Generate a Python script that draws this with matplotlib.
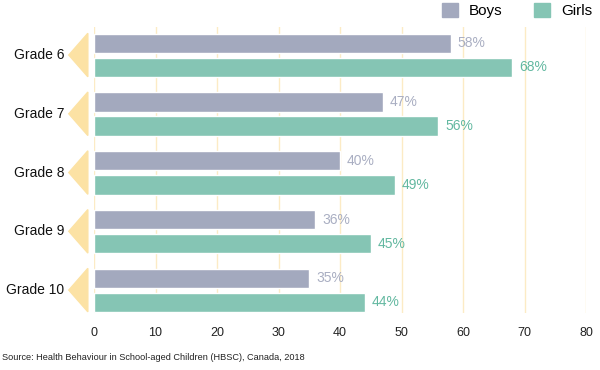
import matplotlib.pyplot as plt
from matplotlib.patches import Polygon, Patch

plt.rcParams['font.family'] = ['Liberation Sans', 'DejaVu Sans']

# data
grades = ['Grade 6', 'Grade 7', 'Grade 8', 'Grade 9', 'Grade 10']
boys = [58, 47, 40, 36, 35]
girls = [68, 56, 49, 45, 44]

boys_color = '#A3A9BE'
girls_color = '#85C5B4'
boys_text = '#A9AEC2'
girls_text = '#62B8A0'
grid_color = '#FCEBC5'
tri_color = '#FCE2A4'

fig = plt.figure(figsize=(6, 3.7), dpi=100)
ax = fig.add_axes([94/600, 1-313/370, (586-94)/600, (313-27)/370])

ypos = list(range(len(grades)))
yb = [y - 0.2 for y in ypos]
yg = [y + 0.21 for y in ypos]
ax.barh(yb, boys, height=0.33, color=boys_color, edgecolor='white', linewidth=1, zorder=3)
ax.barh(yg, girls, height=0.33, color=girls_color, edgecolor='white', linewidth=1, zorder=3)

for y, v in zip(yb, boys):
    ax.text(v + 1.1, y, f'{v}%', va='center', ha='left', fontsize=10, color=boys_text)
for y, v in zip(yg, girls):
    ax.text(v + 1.1, y, f'{v}%', va='center', ha='left', fontsize=10, color=girls_text)

# yellow arrow markers and grade labels
for y, g in zip(ypos, grades):
    tri = Polygon([[-4.1, y], [-1.0, y - 0.37], [-1.0, y + 0.37]], closed=True,
                  color=tri_color, clip_on=False, zorder=2)
    ax.add_patch(tri)
    ax.text(-4.8, y, g, ha='right', va='center', fontsize=10, color='#111111')

ax.set_xlim(0, 80)
ax.set_ylim(4.39, -0.477)
ax.set_xticks(range(0, 81, 10))
ax.set_yticks([])
ax.tick_params(axis='x', length=0, labelsize=9, pad=10, colors='#222222')
ax.grid(axis='x', color=grid_color, linewidth=1, zorder=0)
for s in ax.spines.values():
    s.set_visible(False)

handles = [Patch(color=boys_color, label='Boys'), Patch(color=girls_color, label='Girls')]
fig.legend(handles=handles, loc='upper right', bbox_to_anchor=(1.01, 1.03), ncol=2,
           frameon=False, fontsize=11, handlelength=1.05, handleheight=1.05,
           columnspacing=2.1, handletextpad=0.7)

fig.text(2/600, 1-358/370, 'Source: Health Behaviour in School-aged Children (HBSC), Canada, 2018',
         fontsize=6.6, va='center', ha='left', color='#222222')

fig.savefig('out.png', dpi=100)
